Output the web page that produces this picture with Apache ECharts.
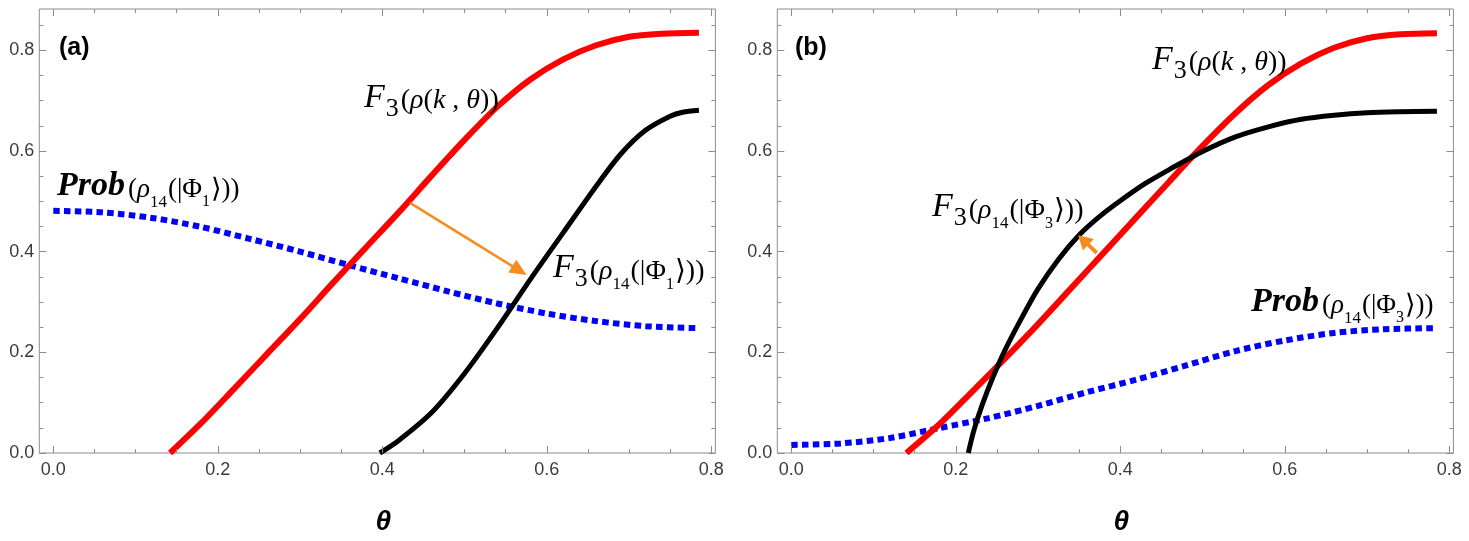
<!DOCTYPE html>
<html>
<head>
<meta charset="utf-8">
<script src="https://cdn.jsdelivr.net/npm/echarts@6/dist/echarts.min.js"></script>
<style>
html, body { margin: 0; padding: 0; background: #fff; }
#main { width: 1469px; height: 541px; }
</style>
</head>
<body>
<div id="main"></div>
<script>
// panel (a)
var redA_x = [0.142, 0.18, 0.22, 0.26, 0.30, 0.34, 0.38, 0.42, 0.46, 0.50, 0.54, 0.58, 0.62, 0.66, 0.70, 0.74, 0.785];
var redA_y = [0, 0.0597, 0.128, 0.197, 0.266, 0.338, 0.408, 0.478, 0.551, 0.622, 0.688, 0.742, 0.782, 0.810, 0.827, 0.833, 0.835];
var blackA_x = [0.397, 0.42, 0.46, 0.50, 0.54, 0.58, 0.62, 0.66, 0.69, 0.72, 0.75, 0.765, 0.785];
var blackA_y = [0, 0.025, 0.0804, 0.158, 0.2485, 0.345, 0.4377, 0.530, 0.594, 0.641, 0.669, 0.677, 0.681];
var blueA_x = [0, 0.06, 0.12, 0.18, 0.24, 0.30, 0.36, 0.42, 0.48, 0.54, 0.60, 0.66, 0.72, 0.785];
var blueA_y = [0.481, 0.478, 0.467, 0.449, 0.425, 0.400, 0.373, 0.347, 0.321, 0.297, 0.277, 0.262, 0.252, 0.248];

// panel (b)
var redB_x = [0.14, 0.18, 0.22, 0.26, 0.30, 0.34, 0.38, 0.42, 0.46, 0.50, 0.54, 0.58, 0.62, 0.66, 0.70, 0.74, 0.785];
var redB_y = [0, 0.057, 0.122, 0.188, 0.256, 0.327, 0.398, 0.469, 0.540, 0.610, 0.675, 0.731, 0.774, 0.805, 0.824, 0.832, 0.834];
var blackB_x = [0.2152, 0.222, 0.232, 0.245, 0.26, 0.28, 0.30, 0.325, 0.35, 0.375, 0.40, 0.43, 0.46, 0.50, 0.54, 0.58, 0.62, 0.66, 0.70, 0.74, 0.785];
var blackB_y = [0, 0.045, 0.095, 0.150, 0.205, 0.268, 0.326, 0.385, 0.433, 0.470, 0.501, 0.535, 0.5635, 0.599, 0.628, 0.648, 0.663, 0.671, 0.676, 0.678, 0.679];
var blueB_x = [0, 0.06, 0.12, 0.18, 0.24, 0.30, 0.36, 0.42, 0.48, 0.54, 0.60, 0.66, 0.72, 0.785];
var blueB_y = [0.016, 0.019, 0.0298, 0.0496, 0.0694, 0.0937, 0.121, 0.146, 0.174, 0.2025, 0.2235, 0.2385, 0.2458, 0.248];

// ticks
var xMajor = [0, 0.2, 0.4, 0.6, 0.8];
var xMinor = [0.05, 0.1, 0.15, 0.25, 0.3, 0.35, 0.45, 0.5, 0.55, 0.65, 0.7, 0.75];
var yMajor = [0, 0.2, 0.4, 0.6, 0.8];
var yMinor = [0.05, 0.1, 0.15, 0.25, 0.3, 0.35, 0.45, 0.5, 0.55, 0.65, 0.7, 0.75, 0.85];

var X_MIN = -0.017, X_MAX = 0.805, Y_MIN = 0, Y_MAX = 0.882;
var frameColor = '#8c8c8c';
var orange = '#f68b1f';
var serif = "'Liberation Serif','DejaVu Serif',serif";
var sans = "'Liberation Sans',Arial,sans-serif";

function pairs(xs, ys) {
    return xs.map(function (x, i) { return [x, ys[i]]; });
}
function fmt(v) { return v.toFixed(1); }

function axesFor(dim, grid) {
    var isX = dim === 'x';
    var pos = isX ? ['bottom', 'top'] : ['left', 'right'];
    var major = isX ? xMajor : yMajor, minor = isX ? xMinor : yMinor;
    var out = [];
    pos.forEach(function (p, k) {
        [major, minor].forEach(function (vals, m) {
            var ax = {
                gridIndex: grid, type: 'value', position: p,
                min: isX ? X_MIN : Y_MIN, max: isX ? X_MAX : Y_MAX,
                axisLine: {show: false, onZero: false}, splitLine: {show: false},
                axisTick: {show: true, inside: true, length: m === 0 ? 7 : 4, customValues: vals,
                    lineStyle: {color: frameColor, width: 1}},
                axisLabel: {show: false},
                z: 5
            };
            if (k === 0 && m === 0) {
                ax.axisLabel = {show: true, customValues: major, formatter: fmt,
                    margin: isX ? 8 : 5, fontSize: 18, fontFamily: sans, color: '#3a3a3a'};
                if (isX) {
                    ax.name = 'θ';
                    ax.nameLocation = 'middle';
                    ax.nameGap = 55;
                    ax.nameTextStyle = {fontFamily: sans, fontSize: 28, fontWeight: 'bold',
                        fontStyle: 'italic', color: '#000', padding: [0, 0, 0, 12]};
                }
            }
            out.push(ax);
        });
    });
    return out;
}

var dom = document.getElementById('main');
var myChart = echarts.init(dom, null, {renderer: 'canvas'});

function curve(name, data, panel, color, width, dotted) {
    return {
        name: name, type: 'line', xAxisIndex: panel * 4, yAxisIndex: panel * 4,
        data: data, showSymbol: false, symbol: 'none', smooth: 0.3, clip: true,
        lineStyle: {color: color, width: width, type: dotted ? [6.5, 4.3] : 'solid', cap: 'butt'},
        silent: true, z: dotted ? 3 : 4
    };
}

var option = {
    animation: false,
    backgroundColor: '#fff',
    grid: [
        {left: 39.3, top: 9, width: 676.1, height: 460.7, show: true, borderColor: frameColor, borderWidth: 1},
        {left: 777.3, top: 9, width: 676.1, height: 460.7, show: true, borderColor: frameColor, borderWidth: 1}
    ],
    xAxis: axesFor('x', 0).concat(axesFor('x', 1)),
    yAxis: axesFor('y', 0).concat(axesFor('y', 1)),
    series: [
        curve('blueA', pairs(blueA_x, blueA_y), 0, '#0000ff', 6, true),
        curve('redA', pairs(redA_x, redA_y), 0, '#ff0000', 6, false),
        curve('blackA', pairs(blackA_x, blackA_y), 0, '#000000', 5, false),
        curve('blueB', pairs(blueB_x, blueB_y), 1, '#0000ff', 6, true),
        curve('redB', pairs(redB_x, redB_y), 1, '#ff0000', 6, false),
        curve('blackB', pairs(blackB_x, blackB_y), 1, '#000000', 5, false)
    ]
};
myChart.setOption(option);

// annotations
var rich = {
    F: {fontFamily: serif, fontStyle: 'italic', fontSize: 34, padding: [0, 1, 8, 0], verticalAlign: 'bottom'},
    s3: {fontFamily: serif, fontSize: 26, padding: [0, 2, 1, 0], verticalAlign: 'bottom'},
    t: {fontFamily: serif, fontSize: 28, padding: [0, 0, 8, 0], verticalAlign: 'bottom'},
    i: {fontFamily: serif, fontStyle: 'italic', fontSize: 28, padding: [0, 0, 8, 0], verticalAlign: 'bottom'},
    sub: {fontFamily: serif, fontSize: 17, padding: [0, 1, 0, 0], verticalAlign: 'bottom'},
    sb: {fontFamily: serif, fontSize: 16, padding: [0, 1, 1, 0], verticalAlign: 'bottom'},
    P: {fontFamily: serif, fontStyle: 'italic', fontWeight: 'bold', fontSize: 34, padding: [0, 3, 8, 0], verticalAlign: 'bottom'},
    u: {fontFamily: serif, fontSize: 27, padding: [0, 0, 8, 0], verticalAlign: 'bottom'},
    j: {fontFamily: serif, fontStyle: 'italic', fontSize: 27, padding: [0, 0, 8, 0], verticalAlign: 'bottom'}
};
var txtF3rho = '{F|F}{s3|3}{t|(}{i|ρ}{t|(}{i|k}{t| , }{i|θ}{t|))}';
function txtF3phi(n) { return '{F|F}{s3|3}{t|(}{i|ρ}{sub|14}{t|(|Φ}{sb|' + n + '}{t|⟩))}'; }
function txtProb(n) { return '{P|Prob}{u|(}{j|ρ}{sub|14}{u|(|Φ}{sb|' + n + '}{u|⟩))}'; }

var labels = [
    {panel: 0, at: [0.0069, 0.8042], text: '(a)', tag: true},
    {panel: 1, at: [0.0045, 0.8035], text: '(b)', tag: true},
    {panel: 0, at: [0.3778, 0.6558], text: txtF3rho},
    {panel: 0, at: [0.0045, 0.4808], text: txtProb(1)},
    {panel: 0, at: [0.6075, 0.3171], text: txtF3phi(1)},
    {panel: 1, at: [0.4385, 0.7313], text: txtF3rho},
    {panel: 1, at: [0.1711, 0.4381], text: txtF3phi(3)},
    {panel: 1, at: [0.5589, 0.2500], text: txtProb(3)}
];
var arrows = [
    {panel: 0, from: [0.4337, 0.4968], to: [0.5756, 0.3535], width: 2.5, head: 17, half: 7.5},
    {panel: 1, from: [0.3713, 0.3976], to: [0.3489, 0.4328], width: 4, head: 14, half: 8}
];

function toPx(panel, pt) {
    return myChart.convertToPixel({xAxisIndex: panel * 4, yAxisIndex: panel * 4}, pt);
}

var graphics = [];
labels.forEach(function (l) {
    var p = toPx(l.panel, l.at);
    if (l.tag) {
        graphics.push({type: 'text', x: p[0], y: p[1], z: 100,
            style: {text: l.text, fill: '#000', font: 'bold 25px ' + sans, align: 'left', verticalAlign: 'middle'}});
    } else {
        graphics.push({type: 'text', x: p[0], y: p[1], z: 100,
            style: {text: l.text, rich: rich, fill: '#000', align: 'left', verticalAlign: 'bottom'}});
    }
});
arrows.forEach(function (a) {
    var p1 = toPx(a.panel, a.from), p2 = toPx(a.panel, a.to);
    var dx = p2[0] - p1[0], dy = p2[1] - p1[1];
    var len = Math.sqrt(dx * dx + dy * dy), ux = dx / len, uy = dy / len;
    var bx = p2[0] - ux * a.head, by = p2[1] - uy * a.head;
    graphics.push({type: 'line', z: 100, shape: {x1: p1[0], y1: p1[1], x2: bx + ux, y2: by + uy},
        style: {stroke: orange, lineWidth: a.width}});
    graphics.push({type: 'polygon', z: 100,
        shape: {points: [[p2[0], p2[1]], [bx - uy * a.half, by + ux * a.half], [bx + uy * a.half, by - ux * a.half]]},
        style: {fill: orange}});
});
myChart.setOption({graphic: graphics});
</script>
</body>
</html>
